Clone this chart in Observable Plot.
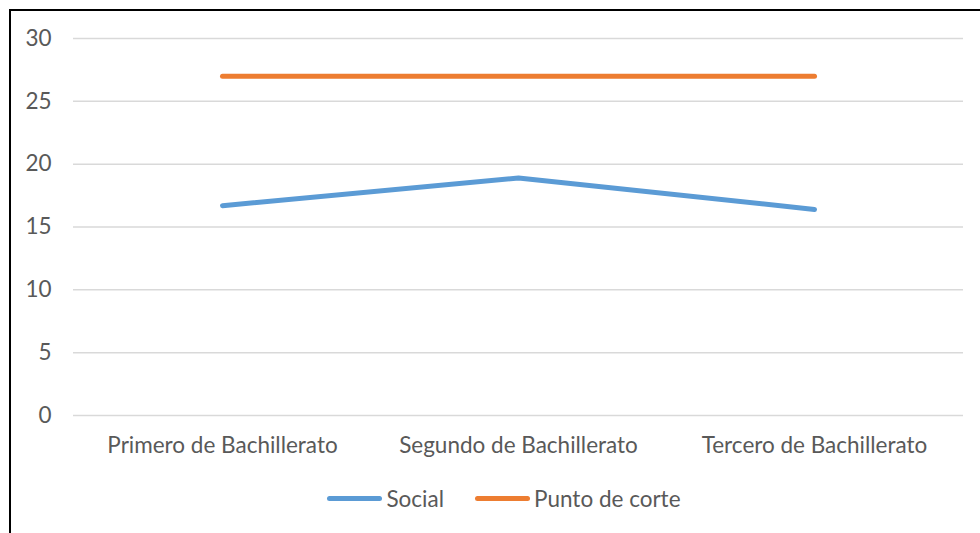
<!DOCTYPE html>
<html>
<head>
<meta charset="utf-8">
<script src="https://cdn.jsdelivr.net/npm/d3@7"></script>
<script src="https://cdn.jsdelivr.net/npm/@observablehq/plot@0.6"></script>
<style>
  html, body { margin: 0; padding: 0; background: #fff; }
  body { width: 980px; height: 533px; position: relative; overflow: hidden; font-family: Lato, "Open Sans", sans-serif; }
  #frame { position: absolute; left: 9px; top: 9px; width: 990px; height: 600px; border-left: 2px solid #000; border-top: 2px solid #000; }
  #chart { position: absolute; left: 0; top: 0; }
  #legend { position: absolute; left: 0; top: 485px; width: 980px; display: flex; justify-content: center; gap: 31px; padding-left: 28px; box-sizing: border-box; font-size: 22.5px; color: #595959; }
  .item { display: flex; align-items: center; }
  .sw { width: 55px; height: 5px; border-radius: 3px; margin-right: 4px; }
</style>
</head>
<body>
<div id="frame"></div>
<div id="chart"></div>
<div id="legend"></div>
<script>
const categories = ["Primero de Bachillerato", "Segundo de Bachillerato", "Tercero de Bachillerato"];
const social = [16.7, 18.9, 16.4];
const puntoDeCorte = [27, 27, 27];
const seriesNames = ["Social", "Punto de corte"];
const seriesColors = ["#5B9BD5", "#ED7D31"];
const yTicks = [0, 5, 10, 15, 20, 25, 30];

const data = [];
categories.forEach((c, i) => {
  data.push({cat: c, value: social[i], series: seriesNames[0]});
  data.push({cat: c, value: puntoDeCorte[i], series: seriesNames[1]});
});

const chart = Plot.plot({
  width: 980,
  height: 470,
  marginLeft: 73,
  marginRight: 17,
  marginTop: 38,
  marginBottom: 55,
  style: {fontFamily: "Lato, 'Open Sans', sans-serif", fontSize: "22.5px", color: "#595959", background: "transparent"},
  x: {type: "point", domain: categories, padding: 0.5, label: null},
  y: {domain: [0, 30], ticks: yTicks, label: null},
  color: {domain: seriesNames, range: seriesColors},
  marks: [
    Plot.gridY(yTicks, {stroke: "#D9D9D9", strokeOpacity: 1, strokeWidth: 1.5}),
    Plot.axisY(yTicks, {tickSize: 0, tickPadding: 22, fill: "#595959", fontSize: 22.5, label: null}),
    Plot.axisX({tickSize: 0, tickPadding: 22, fill: "#595959", fontSize: 22.5, label: null}),
    Plot.line(data, {x: "cat", y: "value", z: "series", stroke: "series", strokeWidth: 5, strokeLinecap: "round", strokeLinejoin: "round"})
  ]
});
document.getElementById("chart").appendChild(chart);

const legend = document.getElementById("legend");
seriesNames.forEach((n, i) => {
  const it = document.createElement("div");
  it.className = "item";
  const sw = document.createElement("span");
  sw.className = "sw";
  sw.style.background = seriesColors[i];
  const t = document.createElement("span");
  t.textContent = n;
  it.appendChild(sw);
  it.appendChild(t);
  legend.appendChild(it);
});
</script>
</body>
</html>
